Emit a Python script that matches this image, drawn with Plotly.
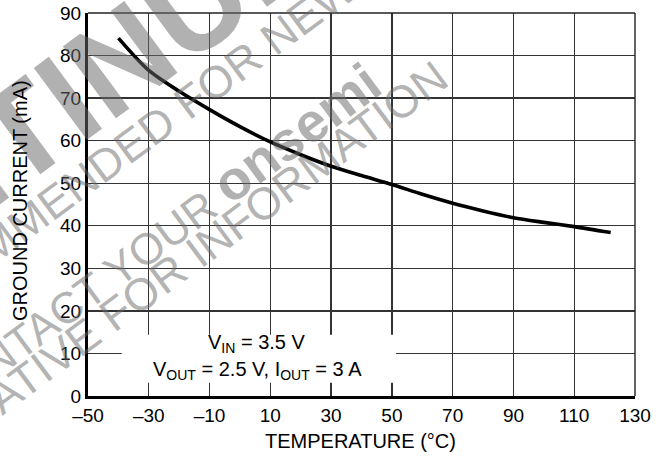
import plotly.graph_objects as go

# Data
temperature_c = [-40, -30, -20, -10, 0, 10, 20, 30, 40, 50, 60, 70, 80, 90, 100, 110, 122]
ground_current_ma = [84.1, 76.5, 71.6, 67.3, 63.3, 59.7, 56.7, 54.0, 51.8, 49.7, 47.4, 45.3, 43.5, 41.9, 40.8, 39.8, 38.4]

x_tickvals = [-50, -30, -10, 10, 30, 50, 70, 90, 110, 130]
x_ticktext = ["\u201350", "\u201330", "\u201310", "10", "30", "50", "70", "90", "110", "130"]
y_tickvals = [0, 10, 20, 30, 40, 50, 60, 70, 80, 90]

FONT = "Liberation Sans, Arial, Helvetica, sans-serif"
W, H = 664, 458
ML, MT = 88, 13
MR = W - 635.5
MB = H - 396
PW, PH = W - ML - MR, H - MT - MB


def px(x):
    """page pixel x -> paper x"""
    return (x - ML) / PW


def py(y):
    """page pixel y -> paper y"""
    return (MT + PH - y) / PH


fig = go.Figure()
fig.add_trace(go.Scatter(
    x=temperature_c, y=ground_current_ma, mode="lines",
    line=dict(color="black", width=3.6, shape="spline", smoothing=0.8),
    showlegend=False, hoverinfo="skip",
))

wm_color = "rgba(105,105,105,0.52)"
watermarks = [
    ("<b>DISCONTINUED</b>", -20, 163, 130),
    ("NOT RECOMMENDED FOR NEW DESIGN", 146, 133, 45),
    ("CONTACT YOUR <b><span style='font-size:55px'>onsemi</span></b>", 152, 240, 44),
    ("REPRESENTATIVE FOR INFORMATION", 108, 318, 45),
]
annotations = []
for text, cx, cy, size in watermarks:
    annotations.append(dict(
        text=text, x=px(cx), y=py(cy), xref="paper", yref="paper",
        xanchor="center", yanchor="middle", showarrow=False, textangle=-36.5,
        font=dict(family=FONT, size=size, color=wm_color),
    ))

annotations += [
    dict(text="V<sub>IN</sub> = 3.5 V", x=px(257), y=py(343), xref="paper", yref="paper",
         xanchor="center", yanchor="middle", showarrow=False,
         font=dict(family=FONT, size=20, color="black")),
    dict(text="V<sub>OUT</sub> = 2.5 V, I<sub>OUT</sub> = 3 A", x=px(258), y=py(370), xref="paper", yref="paper",
         xanchor="center", yanchor="middle", showarrow=False,
         font=dict(family=FONT, size=20, color="black")),
    dict(text="TEMPERATURE (\u00b0C)", x=px(361), y=py(441), xref="paper", yref="paper",
         xanchor="center", yanchor="middle", showarrow=False,
         font=dict(family=FONT, size=20, color="black")),
    dict(text="GROUND CURRENT (mA)", x=px(20), y=py(201), xref="paper", yref="paper",
         xanchor="center", yanchor="middle", showarrow=False, textangle=-90,
         font=dict(family=FONT, size=20, color="black")),
]

shapes = [
    # white legend box hiding the grid
    dict(type="rect", xref="x", yref="y", x0=-38.9, x1=51.4, y0=3.1, y1=14.4,
         fillcolor="white", line=dict(width=0), layer="above"),
    # thin top / right frame
    dict(type="line", xref="paper", yref="paper", x0=0, x1=1, y0=1, y1=1,
         line=dict(color="#222222", width=1.4), layer="above"),
    dict(type="line", xref="paper", yref="paper", x0=1, x1=1, y0=0, y1=1,
         line=dict(color="#222222", width=1.4), layer="above"),
]

fig.update_layout(
    width=W, height=H,
    margin=dict(l=ML, r=MR, t=MT, b=MB, autoexpand=False),
    paper_bgcolor="white", plot_bgcolor="white",
    font=dict(family=FONT, size=19, color="black"),
    annotations=annotations, shapes=shapes,
    xaxis=dict(
        range=[-50, 130], tickmode="array", tickvals=x_tickvals, ticktext=x_ticktext,
        showgrid=True, gridcolor="#333333", gridwidth=1.3, zeroline=False,
        showline=True, linecolor="black", linewidth=3, ticks="", ticklen=0,
        tickfont=dict(family=FONT, size=19, color="black"), fixedrange=True,
    ),
    yaxis=dict(
        range=[0, 90], tickmode="array", tickvals=y_tickvals,
        showgrid=True, gridcolor="#333333", gridwidth=1.3, zeroline=False,
        showline=True, linecolor="black", linewidth=3, ticks="", ticklen=0,
        tickfont=dict(family=FONT, size=19, color="black"), fixedrange=True,
    ),
)

fig.write_html(
    "out.html",
    config={"displayModeBar": False, "staticPlot": True},
    post_script="document.body.style.margin='0px';",
)
